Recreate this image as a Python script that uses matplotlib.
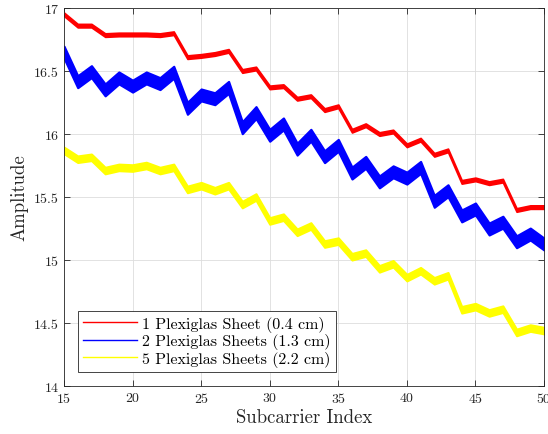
import matplotlib
matplotlib.use("Agg")
import matplotlib.pyplot as plt
import numpy as np

plt.rcParams["font.family"] = "serif"
plt.rcParams["font.serif"] = ["cmr10"]
plt.rcParams["mathtext.fontset"] = "cm"
plt.rcParams["axes.formatter.use_mathtext"] = True

subcarrier = np.arange(15, 51)

sheet1 = [16.95, 16.86, 16.86, 16.785, 16.79, 16.79, 16.79, 16.785, 16.80,
          16.61, 16.62, 16.635, 16.66, 16.50, 16.52, 16.37, 16.38, 16.28,
          16.30, 16.19, 16.22, 16.026, 16.07, 16.00, 16.02, 15.91, 15.955,
          15.835, 15.87, 15.62, 15.64, 15.61, 15.63, 15.397, 15.42, 15.42]
sheet2 = [16.65, 16.415, 16.495, 16.35, 16.445, 16.38, 16.445, 16.40, 16.49,
          16.204, 16.31, 16.28, 16.37, 16.05, 16.17, 15.99, 16.08, 15.88,
          15.99, 15.82, 15.91, 15.69, 15.775, 15.62, 15.70, 15.65, 15.735,
          15.466, 15.55, 15.35, 15.405, 15.246, 15.30, 15.145, 15.206, 15.127]
sheet5 = [15.87, 15.80, 15.815, 15.71, 15.735, 15.73, 15.75, 15.71, 15.735,
          15.56, 15.59, 15.55, 15.59, 15.44, 15.50, 15.31, 15.34, 15.22,
          15.27, 15.127, 15.15, 15.026, 15.055, 14.93, 14.97, 14.86, 14.915,
          14.835, 14.875, 14.605, 14.63, 14.58, 14.61, 14.425, 14.46, 14.44]

labels = ["1 Plexiglas Sheet (0.4 cm)",
          "2 Plexiglas Sheets (1.3 cm)",
          "5 Plexiglas Sheets (2.2 cm)"]
colors = ["#ff0000", "#0000ff", "#ffff00"]
spread = [0.014, 0.047, 0.026]   # half-height of each bundle of traces
edge = [1.2, 1.6, 1.5]

fig = plt.figure(figsize=(5.48, 4.35), dpi=100)
ax = fig.add_axes([0.1168, 0.1103, 0.8759, 0.869])

for y, lab, c, h, e in zip([sheet1, sheet2, sheet5], labels, colors, spread, edge):
    y = np.array(y)
    ax.fill_between(subcarrier, y - h, y + h, color=c, lw=e, edgecolor=c)
    ax.plot([], [], color=c, lw=1.0, label=lab)

ax.set_xlim(15, 50)
ax.set_ylim(14, 17)
ax.set_xticks(np.arange(15, 51, 5))
ax.set_yticks(np.arange(14, 17.01, 0.5))
ax.set_yticklabels(["14", "14.5", "15", "15.5", "16", "16.5", "17"])
ax.tick_params(direction="in", top=True, right=True, labelsize=10,
               color="#262626", labelcolor="#262626", length=4, width=0.6)
for s in ax.spines.values():
    s.set_color("#262626")
    s.set_linewidth(0.6)
ax.grid(True, color="#dddddd", lw=0.6)
ax.set_axisbelow(True)
ax.set_xlabel("Subcarrier Index", fontsize=13.5, color="#262626", labelpad=2)
ax.set_ylabel("Amplitude", fontsize=13.5, color="#262626", labelpad=4)

leg = ax.legend(loc="lower left", fontsize=11.5, handlelength=3.4,
                fancybox=False, edgecolor="#262626", framealpha=1,
                borderpad=0.3, labelspacing=0.1, handletextpad=0.3,
                borderaxespad=0.9)
leg.get_frame().set_linewidth(0.6)

fig.savefig("out.png", dpi=100)
